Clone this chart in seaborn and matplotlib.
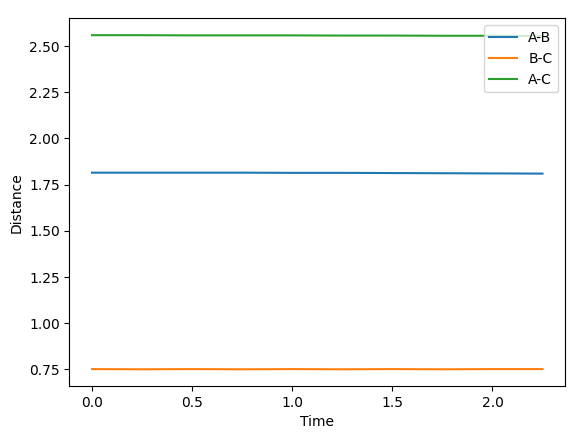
import pandas as pd
import matplotlib.pyplot as plt
import seaborn as sns

# Distances between the three atoms over time
time = [0.0, 0.25, 0.5, 0.75, 1.0, 1.25, 1.5, 1.75, 2.0, 2.25]
dist_ab = [1.815, 1.815, 1.815, 1.815, 1.814, 1.814, 1.813, 1.812, 1.811, 1.810]
dist_bc = [0.752, 0.751, 0.752, 0.751, 0.752, 0.751, 0.752, 0.751, 0.752, 0.752]
dist_ac = [2.559, 2.559, 2.558, 2.558, 2.558, 2.557, 2.557, 2.556, 2.556, 2.555]

fig = plt.figure(figsize=(5.86, 4.32), dpi=100)
ax = fig.add_axes([0.1186, 0.1065, 0.8456, 0.8507])

sns.lineplot(x=time, y=dist_ab, label='A-B', ax=ax)
sns.lineplot(x=time, y=dist_bc, label='B-C', ax=ax)
sns.lineplot(x=time, y=dist_ac, label='A-C', ax=ax)

ax.set_xlabel('Time')
ax.set_ylabel('Distance')
ax.legend(loc='upper right')

fig.savefig('out.png', dpi=100)
